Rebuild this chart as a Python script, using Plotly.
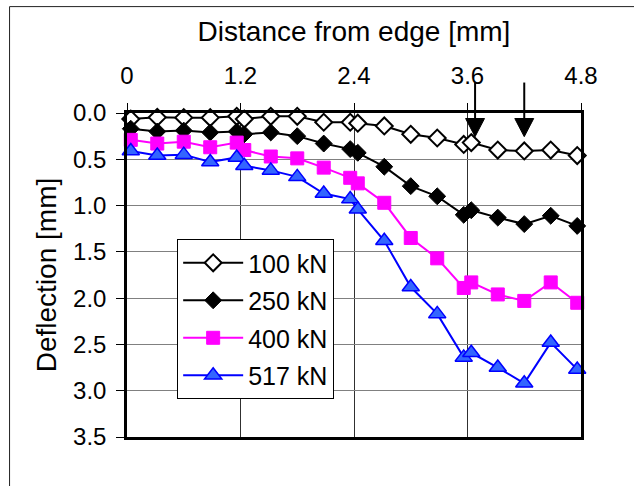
import plotly.graph_objects as go

# Data
distance = [0.04, 0.32, 0.60, 0.88, 1.16, 1.24, 1.52, 1.80, 2.08, 2.36,
            2.44, 2.72, 3.00, 3.28, 3.56, 3.64, 3.92, 4.20, 4.48, 4.76]
defl_100 = [0.065, 0.047, 0.05, 0.05, 0.036, 0.065, 0.036, 0.036, 0.10, 0.10,
            0.11, 0.14, 0.23, 0.27, 0.34, 0.32, 0.40, 0.41, 0.40, 0.46]
defl_250 = [0.17, 0.20, 0.19, 0.21, 0.20, 0.23, 0.21, 0.25, 0.33, 0.39,
            0.43, 0.58, 0.79, 0.90, 1.10, 1.05, 1.13, 1.20, 1.11, 1.22]
defl_400 = [0.29, 0.33, 0.31, 0.37, 0.32, 0.40, 0.47, 0.49, 0.59, 0.70,
            0.76, 0.97, 1.35, 1.57, 1.89, 1.83, 1.96, 2.03, 1.83, 2.05]
defl_517 = [0.41, 0.46, 0.45, 0.53, 0.48, 0.57, 0.62, 0.69, 0.87, 0.93,
            1.04, 1.38, 1.88, 2.17, 2.64, 2.59, 2.75, 2.92, 2.48, 2.77]
series_names = ["100 kN", "250 kN", "400 kN", "517 kN"]
x_ticks = [0, 1.2, 2.4, 3.6, 4.8]
y_ticks = [0.0, 0.5, 1.0, 1.5, 2.0, 2.5, 3.0, 3.5]
arrow_positions = [3.68, 4.20]

FONT = "Liberation Sans, Arial, sans-serif"

styles = [
    dict(line=dict(color="black", width=2),
         marker=dict(symbol="diamond", size=13, color="white", line=dict(color="black", width=2))),
    dict(line=dict(color="black", width=2),
         marker=dict(symbol="diamond", size=13, color="black", line=dict(color="black", width=1))),
    dict(line=dict(color="#FF00FF", width=2),
         marker=dict(symbol="square", size=13, color="#FF00FF", line=dict(color="#FF00FF", width=1))),
    dict(line=dict(color="#0000FF", width=2),
         marker=dict(symbol="triangle-up", size=15, color="#3366FF", line=dict(color="#0000FF", width=1.5))),
]

fig = go.Figure()
for name, ys, st in zip(series_names, [defl_100, defl_250, defl_400, defl_517], styles):
    fig.add_trace(go.Scatter(x=distance, y=ys, name=name, mode="lines+markers",
                             line=st["line"], marker=st["marker"], cliponaxis=False,
                             legendgroup=name))

shapes = []
for xa in arrow_positions:
    shapes.append(dict(type="line", xref="x", yref="paper", x0=xa, x1=xa, y0=0.98, y1=1.094,
                       line=dict(color="black", width=2), layer="above"))
    shapes.append(dict(type="path", xref="x", yref="paper",
                       path=f"M {xa-0.1} 0.983 L {xa+0.1} 0.983 L {xa} 0.927 Z",
                       fillcolor="black", line=dict(color="black", width=1), layer="above"))
# outer chart frame
shapes.append(dict(type="line", xref="paper", yref="paper", x0=-0.2587, x1=1.2, y0=1.3284, y1=1.3284,
                   line=dict(color="#222", width=1)))
shapes.append(dict(type="line", xref="paper", yref="paper", x0=-0.2587, x1=-0.2587, y0=1.3284, y1=-0.3,
                   line=dict(color="#222", width=1)))

fig.update_layout(
    width=634, height=486,
    margin=dict(l=127, r=53, t=113, b=49, autoexpand=False),
    paper_bgcolor="white", plot_bgcolor="white",
    font=dict(family=FONT, size=24, color="black"),
    showlegend=True,
    legend=dict(x=0.1105, y=0.611, xanchor="left", yanchor="top",
                bgcolor="white", bordercolor="black", borderwidth=1,
                font=dict(size=25, family=FONT), itemwidth=60,
                traceorder="grouped", tracegroupgap=2),
    shapes=shapes,
)

fig.update_xaxes(
    side="top", range=[0, 4.8], tickvals=x_ticks, ticktext=[f"{v:g}" for v in x_ticks],
    showgrid=True, gridcolor="#303030", gridwidth=1,
    showline=True, linecolor="black", linewidth=2.5, mirror=True,
    ticks="outside", ticklen=7, tickcolor="black", tickwidth=1,
    ticklabelstandoff=10,
    title=dict(text="Distance from edge [mm]", font=dict(size=28, family=FONT), standoff=12),
    zeroline=False, automargin=False,
)
fig.update_yaxes(
    range=[3.5, 0], tickvals=y_ticks, ticktext=[f"{v:.1f}" for v in y_ticks],
    showgrid=True, gridcolor="#808080", gridwidth=1,
    showline=True, linecolor="black", linewidth=2.5, mirror=True,
    ticks="outside", ticklen=8, tickcolor="black", tickwidth=1,
    ticklabelstandoff=5,
    title=dict(text="Deflection [mm]", font=dict(size=28, family=FONT), standoff=9),
    zeroline=False, automargin=False,
)

fig.write_html("out.html")
